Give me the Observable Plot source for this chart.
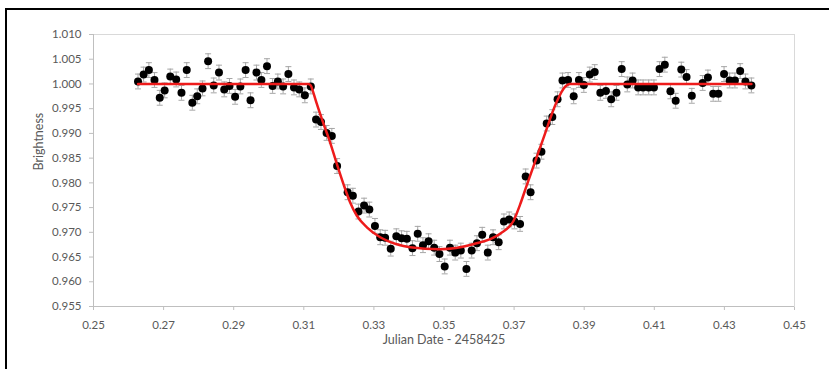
<!DOCTYPE html>
<html>
<head>
<meta charset="utf-8">
<script src="https://cdn.jsdelivr.net/npm/d3@7"></script>
<script src="https://cdn.jsdelivr.net/npm/@observablehq/plot@0.6"></script>
<style>
html, body { margin: 0; padding: 0; background: #fff; }
#wrap { position: relative; width: 829px; height: 369px; overflow: hidden; }
#frame { position: absolute; left: 5px; top: 8px; width: 900px; height: 400px; border-left: 2px solid #000; border-top: 2px solid #000; pointer-events: none; }
#chart svg [aria-label="y-axis tick"], #chart svg [aria-label="x-axis tick"], #chart svg .tick line { stroke: #bfbfbf; }
</style>
</head>
<body>
<div id="wrap"><div id="chart"></div><div id="frame"></div></div>
<script>
// Observed brightness (x = Julian Date - 2458425)
const xValues = [
  0.2627,0.2643,0.2658,0.2674,0.2689,0.2703,0.2719,0.2736,0.2751,0.2766,
  0.2782,0.2796,0.2811,0.2827,0.2843,0.2858,0.2873,0.2888,0.2904,0.2919,
  0.2934,0.2948,0.2965,0.2979,0.2995,0.3011,0.3026,0.3041,0.3056,0.3072,
  0.3087,0.3103,0.3120,0.3135,0.3149,0.3165,0.3180,0.3195,0.3225,0.3240,
  0.3256,0.3272,0.3287,0.3303,0.3318,0.3332,0.3348,0.3364,0.3379,0.3394,
  0.3410,0.3425,0.3440,0.3456,0.3472,0.3487,0.3502,0.3517,0.3532,0.3548,
  0.3564,0.3579,0.3594,0.3609,0.3625,0.3640,0.3656,0.3671,0.3686,0.3701,
  0.3717,0.3733,0.3747,0.3764,0.3778,0.3793,0.3809,0.3824,0.3838,0.3854,
  0.3870,0.3885,0.3899,0.3916,0.3930,0.3946,0.3962,0.3977,0.3992,0.4007,
  0.4023,0.4038,0.4054,0.4068,0.4084,0.4099,0.4115,0.4130,0.4146,0.4161,
  0.4177,0.4192,0.4207,0.4238,0.4253,0.4268,0.4283,0.4299,0.4315,0.4330,
  0.4345,0.4360,0.4377
];
const yValues = [
  1.0005,1.0019,1.0028,1.0008,0.9972,0.9987,1.0015,1.0009,0.9982,1.0028,
  0.9962,0.9975,0.9991,1.0046,0.9997,1.0023,0.9989,0.9996,0.9974,0.9995,
  1.0028,0.9967,1.0023,1.0008,1.0036,0.9996,1.0005,0.9995,1.0020,0.9993,
  0.9989,0.9977,0.9995,0.9928,0.9923,0.9901,0.9895,0.9834,0.9781,0.9774,
  0.9742,0.9754,0.9746,0.9713,0.9690,0.9689,0.9667,0.9692,0.9688,0.9687,
  0.9668,0.9697,0.9674,0.9682,0.9669,0.9656,0.9631,0.9669,0.9659,0.9663,
  0.9626,0.9663,0.9678,0.9695,0.9659,0.9690,0.9680,0.9722,0.9726,0.9722,
  0.9717,0.9813,0.9781,0.9845,0.9863,0.9920,0.9933,0.9969,1.0007,1.0008,
  0.9975,1.0008,0.9998,1.0019,1.0024,0.9982,0.9986,0.9969,0.9982,1.0030,
  0.9999,1.0007,0.9993,0.9993,0.9993,0.9993,1.0030,1.0039,0.9985,0.9966,
  1.0029,1.0014,0.9976,1.0002,1.0013,0.9980,0.9980,1.0020,1.0007,1.0007,
  1.0026,1.0005,0.9997
];
const errorHalf = 0.0015;

// Fitted transit model (red curve)
const modelX = [0.2627,0.3113,0.3120,0.3127,0.3137,0.3156,0.3175,0.3194,0.3213,0.3232,0.3251,0.3280,0.3318,0.3365,0.3403,0.3489,0.3583,0.3660,0.3699,0.3717,0.3736,0.3783,0.3821,0.3845,0.3859,0.4377];
const modelY = [1.0000,1.0000,0.9997,0.9983,0.9960,0.9920,0.9882,0.9839,0.9798,0.9761,0.9734,0.9710,0.9690,0.9676,0.9670,0.9666,0.9676,0.9697,0.9724,0.9756,0.9795,0.9889,0.9963,0.9994,1.0000,1.0000];

const xTicks = [0.25,0.27,0.29,0.31,0.33,0.35,0.37,0.39,0.41,0.43,0.45];
const yTicks = [0.955,0.960,0.965,0.970,0.975,0.980,0.985,0.990,0.995,1.000,1.005,1.010];
const xTitle = "Julian Date - 2458425";
const yTitle = "Brightness";

const points = xValues.map((x, i) => ({x, y: yValues[i]}));
const caps = points.flatMap(d => [{x: d.x, y: d.y - errorHalf}, {x: d.x, y: d.y + errorHalf}]);
const model = modelX.map((x, i) => ({x, y: modelY[i]}));

const capSymbol = {
  draw(ctx, size) {
    const r = Math.sqrt(size / Math.PI);
    ctx.moveTo(-r, 0);
    ctx.lineTo(r, 0);
  }
};

const chart = Plot.plot({
  width: 829,
  height: 369,
  marginLeft: 93,
  marginRight: 35,
  marginTop: 34,
  marginBottom: 63,
  style: {background: "#fff", color: "#595959", fontFamily: "Lato, 'Open Sans', sans-serif", fontSize: "11.5px"},
  x: {domain: [0.25, 0.45], ticks: xTicks, tickFormat: d3.format(".2f"), tickSize: 4, tickPadding: 10, label: null},
  y: {domain: [0.955, 1.010], ticks: yTicks, tickFormat: d3.format(".3f"), tickSize: 4, tickPadding: 8, label: null},
  marks: [
    Plot.frame({stroke: "#d9d9d9"}),
    Plot.ruleX([0.25], {stroke: "#bfbfbf"}),
    Plot.ruleY([0.955], {stroke: "#bfbfbf"}),
    Plot.ruleX(points, {x: "x", y1: d => d.y - errorHalf, y2: d => d.y + errorHalf, stroke: "#a6a6a6", strokeWidth: 1}),
    Plot.dot(caps, {x: "x", y: "y", symbol: capSymbol, r: 3, stroke: "#a6a6a6", fill: "none", strokeWidth: 1}),
    Plot.dot(points, {x: "x", y: "y", r: 4, fill: "#000", stroke: "none"}),
    Plot.line(model, {x: "x", y: "y", stroke: "#ee1b1b", strokeWidth: 2.5, curve: "monotone-x"}),
    Plot.text([yTitle], {text: d => d, frameAnchor: "left", dx: -55, rotate: -90, fontSize: 12.5, fill: "#595959"}),
    Plot.text([xTitle], {text: d => d, frameAnchor: "bottom", dy: 37, fontSize: 12.5, fill: "#595959"})
  ]
});
document.getElementById("chart").appendChild(chart);
</script>
</body>
</html>
